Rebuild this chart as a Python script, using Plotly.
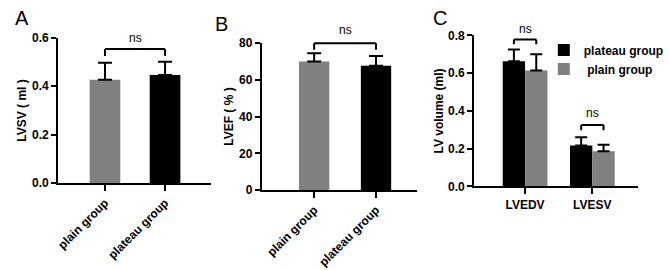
import plotly.graph_objects as go

# ---------------- data ----------------
groups_ab = ["plain group", "plateau group"]
lvsv_mean = [0.427, 0.446]
lvsv_sd = [0.070, 0.055]
lvef_mean = [69.9, 67.5]
lvef_sd = [4.4, 5.3]

c_categories = ["LVEDV", "LVESV"]
plateau_mean = [0.663, 0.217]
plateau_sd = [0.062, 0.044]
plain_mean = [0.614, 0.186]
plain_sd = [0.086, 0.035]

ab_colors = ["#808080", "#000000"]
PLATEAU_COLOR = "#000000"
PLAIN_COLOR = "#808080"

# significance brackets (value-space heights)
a_sig = dict(top=0.554, leg=0.525, label=0.598)
b_sig = dict(top=79.7, leg=76.2, label=86.8)
c_sig_top = [0.778, 0.326]
c_sig_leg = [0.753, 0.298]
c_sig_label = [0.835, 0.388]

FONT = "Liberation Sans, Arial, sans-serif"
W, H = 669, 270

fig = go.Figure()

xa = list(range(len(groups_ab)))
xc = list(range(len(c_categories)))

fig.add_trace(go.Bar(
    x=xa, y=lvsv_mean, width=0.51, marker=dict(color=ab_colors, line=dict(width=0)),
    error_y=dict(type="data", array=lvsv_sd, arrayminus=[0] * len(lvsv_sd), symmetric=False,
                 color="#000", thickness=2, width=7),
    xaxis="x", yaxis="y", showlegend=False))

fig.add_trace(go.Bar(
    x=xa, y=lvef_mean, width=0.49, marker=dict(color=ab_colors, line=dict(width=0)),
    error_y=dict(type="data", array=lvef_sd, arrayminus=[0] * len(lvef_sd), symmetric=False,
                 color="#000", thickness=2, width=7),
    xaxis="x2", yaxis="y2", showlegend=False))

fig.add_trace(go.Bar(
    x=xc, y=plateau_mean, name="plateau group", marker=dict(color=PLATEAU_COLOR, line=dict(width=0)),
    error_y=dict(type="data", array=plateau_sd, arrayminus=[0] * len(plateau_sd), symmetric=False,
                 color="#000", thickness=2, width=6),
    xaxis="x3", yaxis="y3"))
fig.add_trace(go.Bar(
    x=xc, y=plain_mean, name=" plain group", marker=dict(color=PLAIN_COLOR, line=dict(width=0)),
    error_y=dict(type="data", array=plain_sd, arrayminus=[0] * len(plain_sd), symmetric=False,
                 color="#000", thickness=2, width=6),
    xaxis="x3", yaxis="y3"))


def px_dom(x0, x1):
    return [x0 / W, x1 / W]


def py_dom(top, bottom):
    return [1 - bottom / H, 1 - top / H]


tickfont = dict(family=FONT, size=12, color="#000", weight="bold")
common_y = dict(showgrid=False, zeroline=False, showline=True, linecolor="#000", linewidth=2,
                ticks="outside", ticklen=5, tickwidth=2, tickcolor="#000", tickfont=tickfont)
common_x = dict(showgrid=False, zeroline=False, showline=True, linecolor="#000", linewidth=2,
                ticks="outside", ticklen=6, tickwidth=2, tickcolor="#000", tickfont=tickfont)

fig.update_layout(
    width=W, height=H, margin=dict(l=0, r=0, t=0, b=0),
    paper_bgcolor="white", plot_bgcolor="white",
    barmode="group", bargap=0.335, bargroupgap=0,
    font=dict(family=FONT, color="#000"),
    xaxis=dict(domain=px_dom(56, 211), range=[-0.779, 1.762], tickvals=xa, ticktext=groups_ab,
               tickangle=-45, anchor="y", **common_x),
    yaxis=dict(domain=py_dom(32.5, 185.7), range=[0, 0.6], dtick=0.2, tickformat=".1f", anchor="x",
               title=dict(text="LVSV ( ml )", font=dict(family=FONT, size=12, weight="bold"), standoff=3),
               **common_y),
    xaxis2=dict(domain=px_dom(262.7, 420), range=[-0.847, 1.658], tickvals=xa, ticktext=groups_ab,
                tickangle=-45, anchor="y2", **common_x),
    yaxis2=dict(domain=py_dom(37.7, 193.3), range=[0, 80], dtick=20, anchor="x2",
                title=dict(text="LVEF ( % )", font=dict(family=FONT, size=12, weight="bold"), standoff=3),
                **common_y),
    xaxis3=dict(domain=px_dom(478.3, 645), range=[-0.757, 1.684], tickvals=xc, ticktext=c_categories,
                anchor="y3", **common_x),
    yaxis3=dict(domain=py_dom(30, 189.3), range=[0, 0.8], dtick=0.2, tickformat=".1f", anchor="x3",
                title=dict(text="LV volume (ml)", font=dict(family=FONT, size=12, weight="bold"), standoff=2),
                **common_y),
    legend=dict(x=549 / W, y=1 - 30 / H, xanchor="left", yanchor="top",
                font=dict(family=FONT, size=12, color="#000", weight="bold"),
                bgcolor="rgba(0,0,0,0)", traceorder="normal", itemsizing="constant",
                tracegroupgap=0),
)

shapes = []
annotations = []


def bracket(xref, ydom, x0, x1, top, leg, label, ymax):
    for (sx0, sy0, sx1, sy1) in [(x0, leg, x0, top), (x0, top, x1, top), (x1, top, x1, leg)]:
        shapes.append(dict(type="line", xref=xref, yref=ydom + " domain",
                           x0=sx0, x1=sx1, y0=sy0 / ymax, y1=sy1 / ymax,
                           line=dict(color="#000", width=2)))
    annotations.append(dict(xref=xref, yref=ydom + " domain", x=(x0 + x1) / 2, y=label / ymax,
                            text="ns", showarrow=False, yanchor="middle",
                            font=dict(family=FONT, size=12, color="#000")))


bracket("x", "y", xa[0], xa[1], a_sig["top"], a_sig["leg"], a_sig["label"], 0.6)
bracket("x2", "y2", xa[0], xa[1], b_sig["top"], b_sig["leg"], b_sig["label"], 80)
half = (1 - 0.335) / 4
for i, xi in enumerate(xc):
    bracket("x3", "y3", xi - half, xi + half, c_sig_top[i], c_sig_leg[i], c_sig_label[i], 0.8)

for letter, lx, ly in [("A", 10, 12), ("B", 213, 17.5), ("C", 435, 12)]:
    annotations.append(dict(xref="paper", yref="paper", x=lx / W, y=1 - ly / H, text=letter,
                            showarrow=False, xanchor="left", yanchor="middle",
                            font=dict(family=FONT, size=20, color="#000")))

fig.update_layout(shapes=shapes, annotations=annotations)
fig.write_html("out.html")
